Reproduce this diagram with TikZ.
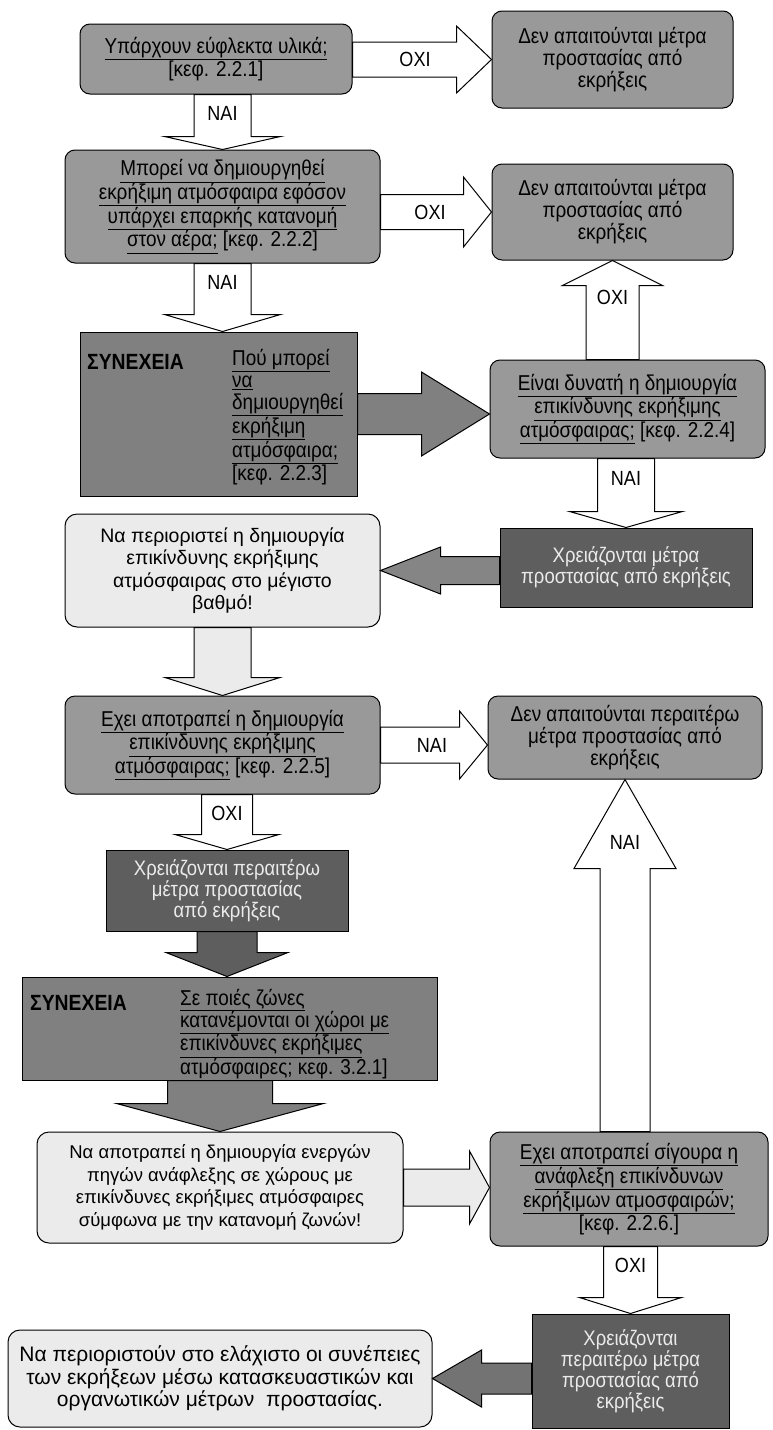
\documentclass[tikz,border=0pt]{standalone}
\usepackage{fontspec}
\setmainfont{Liberation Sans}
\newfontfamily\narrowfont[FakeStretch=0.88]{Liberation Sans}
\newcommand\uline[1]{\underline{#1}}
\usetikzlibrary{calc,positioning}

\tikzset{
  aw/.store in=\aw, hw/.store in=\hw, hl/.store in=\hl,
  aw=17pt, hw=34pt, hl=30pt,
  barrow/.style={draw=black, line width=1pt, line join=miter, fill=white,
    to path={let \p1=($(\tikztotarget)!\hl!(\tikztostart)$) in
      -- ($(\tikztostart)!\aw!90:(\tikztotarget)$)
      -- ($(\p1)!\aw!90:(\tikztotarget)$)
      -- ($(\p1)!\hw!90:(\tikztotarget)$)
      -- (\tikztotarget)
      -- ($(\p1)!\hw!-90:(\tikztotarget)$)
      -- ($(\p1)!\aw!-90:(\tikztotarget)$)
      -- ($(\tikztostart)!\aw!-90:(\tikztotarget)$)
      -- cycle}},
}

\begin{document}
\begin{tikzpicture}[x=1pt,y=-1pt,
  qbox/.style={draw, line width=1pt, rounded corners=10pt, fill=black!40, align=center,
    inner sep=2pt, font=\narrowfont\fontsize{21.5}{22}\selectfont},
  cbox/.style={draw, line width=1pt, fill=black!50},
  mbox/.style={draw, line width=1pt, fill=black!63, text=black!8, align=center,
    inner sep=2pt, font=\narrowfont\fontsize{21}{21}\selectfont},
  rbox/.style={draw, line width=1pt, rounded corners=12pt, fill=black!8, align=center,
    inner sep=2pt, font=\fontsize{19.5}{22.5}\selectfont},
  ctext/.style={anchor=west, align=left, inner sep=0pt, font=\narrowfont\fontsize{21.5}{22}\selectfont},
  chead/.style={anchor=west, inner sep=0pt, font=\narrowfont\bfseries\fontsize{22}{22}\selectfont},
  lbl/.style={inner sep=1pt, font=\narrowfont\fontsize{20.5}{22}\selectfont}]
\useasboundingbox (0,0) rectangle (772,1430);

\node[qbox, minimum width=272, minimum height=70] (q1) at (216,59)
  {\uline{Υπάρχουν εύφλεκτα υλικά;}\\{[}κεφ. 2.2.1{]}};
\node[qbox, minimum width=241, minimum height=97] (n1) at (612.5,59.5)
  {Δεν απαιτούνται μέτρα\\προστασίας από\\εκρήξεις};
\node[qbox, minimum width=315, minimum height=113] (q2) at (222.5,206.5)
  {\uline{Μπορεί να δημιουργηθεί}\\\uline{εκρήξιμη ατμόσφαιρα εφόσον}\\\uline{υπάρχει επαρκής κατανομή}\\\uline{στον αέρα;} {[}κεφ. 2.2.2{]}};
\node[qbox, minimum width=241, minimum height=96] (n2) at (612.5,212)
  {Δεν απαιτούνται μέτρα\\προστασίας από\\εκρήξεις};
\node[cbox, minimum width=277, minimum height=164] (c1) at (218.5,414) {};
\node[chead] (s1) at (87,362) {ΣΥΝΕΧΕΙΑ};
\node[ctext] (t1) at (232,417)
  {\uline{Πού μπορεί}\\\uline{να}\\\uline{δημιουργηθεί}\\\uline{εκρήξιμη}\\\uline{ατμόσφαιρα;}\\{[}κεφ. 2.2.3{]}};
\node[qbox, minimum width=275, minimum height=98] (q3) at (627.5,409)
  {\uline{Είναι δυνατή η δημιουργία}\\\uline{επικίνδυνης εκρήξιμης}\\\uline{ατμόσφαιρας;} {[}κεφ. 2.2.4{]}};
\node[mbox, minimum width=252, minimum height=79] (m1) at (626,567.5)
  {Χρειάζονται μέτρα\\προστασίας από εκρήξεις};
\node[rbox, minimum width=315, minimum height=113] (r1) at (222.5,570.5)
  {Να περιοριστεί η δημιουργία\\επικίνδυνης εκρήξιμης\\ατμόσφαιρας στο μέγιστο\\βαθμό!};
\node[qbox, minimum width=315, minimum height=98] (q4) at (222.5,745)
  {\uline{Εχει αποτραπεί η δημιουργία}\\\uline{επικίνδυνης εκρήξιμης}\\\uline{ατμόσφαιρας;} {[}κεφ. 2.2.5{]}};
\node[qbox, minimum width=274, minimum height=83] (n3) at (625,737.5)
  {Δεν απαιτούνται περαιτέρω\\μέτρα προστασίας από\\εκρήξεις};
\node[mbox, minimum width=242, minimum height=81] (m2) at (227,890.5)
  {Χρειάζονται περαιτέρω\\μέτρα προστασίας\\από εκρήξεις};
\node[cbox, minimum width=415, minimum height=103] (c2) at (229.5,1028.5) {};
\node[chead] (s2) at (30,1003) {ΣΥΝΕΧΕΙΑ};
\node[ctext] (t2) at (180,1035)
  {\uline{Σε ποιές ζώνες}\\\uline{κατανέμονται οι χώροι με}\\\uline{επικίνδυνες εκρήξιμες}\\\uline{ατμόσφαιρες;} κεφ. 3.2.1{]}};
\node[rbox, minimum width=366, minimum height=111, font=\fontsize{18.5}{22.5}\selectfont] (r2) at (220,1187.5)
  {Να αποτραπεί η δημιουργία ενεργών\\πηγών ανάφλεξης σε χώρους με\\επικίνδυνες εκρήξιμες ατμόσφαιρες\\σύμφωνα με την κατανομή ζωνών!};
\node[qbox, minimum width=278, minimum height=114] (q5) at (629,1189)
  {\uline{Εχει αποτραπεί σίγουρα η}\\\uline{ανάφλεξη επικίνδυνων}\\\uline{εκρήξιμων ατμοσφαιρών;}\\{[}κεφ. 2.2.6.{]}};
\node[mbox, minimum width=197, minimum height=114] (m3) at (630.5,1371)
  {Χρειάζονται\\περαιτέρω μέτρα\\προστασίας από\\εκρήξεις};
\node[rbox, minimum width=424, minimum height=97, font=\fontsize{21}{22.5}\selectfont] (r3) at (220,1378.5)
  {Να περιοριστούν στο ελάχιστο οι συνέπειες\\των εκρήξεων μέσω κατασκευαστικών και\\οργανωτικών μέτρων~ προστασίας.};

\draw[barrow, aw=17.5pt, hw=33.5pt, hl=35pt] (q1.east |- n1.west) to (n1.west);
\draw[barrow, aw=28.5pt, hw=58pt, hl=13pt] (q1.south -| q2.north) to (q2.north);
\draw[barrow, aw=17.5pt, hw=35pt, hl=28pt] (q2.east |- n2.west) to (n2.west);
\draw[barrow, aw=28.5pt, hw=58pt, hl=17pt] (q2.south) to (q2.south |- c1.north);
\draw[barrow, fill=black!50, aw=20.5pt, hw=42pt, hl=68pt] (c1.east) to (c1.east -| q3.west);
\draw[barrow, aw=26.5pt, hw=50pt, hl=25pt] (q3.north -| n2.south) to (n2.south);
\draw[barrow, aw=28.5pt, hw=56.5pt, hl=16pt] (q3.south -| m1.north) to (m1.north);
\draw[barrow, fill=black!48, aw=14pt, hw=23.5pt, hl=60pt] (m1.west |- r1.east) to (r1.east);
\draw[barrow, fill=black!8, aw=28.5pt, hw=57.5pt, hl=18pt] (r1.south) to (r1.south |- q4.north);
\draw[barrow, aw=18pt, hw=34pt, hl=28pt] (q4.east) to (q4.east -| n3.west);
\draw[barrow, aw=25.5pt, hw=52pt, hl=15pt] (q4.south -| m2.north) to (m2.north);
\draw[barrow, fill=black!63, aw=30pt, hw=61pt, hl=24pt] (m2.south) to (m2.south |- c2.north);
\draw[barrow, aw=25pt, hw=51pt, hl=89pt] (q5.north -| n3.south) to (n3.south);
\draw[barrow, fill=black!50, aw=52.5pt, hw=103.5pt, hl=28pt] (c2.south -| r2.north) to (r2.north);
\draw[barrow, fill=black!8, aw=18.5pt, hw=36.5pt, hl=20pt] (r2.east) to (r2.east -| q5.west);
\draw[barrow, aw=27pt, hw=51pt, hl=16pt] (q5.south -| m3.north) to (m3.north);
\draw[barrow, fill=black!55, aw=15.5pt, hw=28.5pt, hl=49pt] (m3.west |- r3.east) to (r3.east);

\node[lbl] (l1) at (415,59) {ΟΧΙ};
\node[lbl] (l2) at (222.5,113) {ΝΑΙ};
\node[lbl] (l3) at (430,212) {ΟΧΙ};
\node[lbl] (l4) at (222.5,282) {ΝΑΙ};
\node[lbl] (l5) at (612.5,297) {ΟΧΙ};
\node[lbl] (l6) at (626,478) {ΝΑΙ};
\node[lbl] (l7) at (432,745) {ΝΑΙ};
\node[lbl] (l8) at (227,813) {ΟΧΙ};
\node[lbl] (l9) at (625,842) {ΝΑΙ};
\node[lbl] (l10) at (630.5,1265) {ΟΧΙ};
\end{tikzpicture}
\end{document}
